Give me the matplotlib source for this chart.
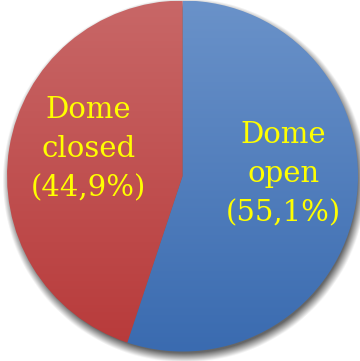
import numpy as np
import matplotlib
matplotlib.use("Agg")
import matplotlib.pyplot as plt
from matplotlib.colors import LinearSegmentedColormap

labels = ["Dome\nopen", "Dome\nclosed"]
shares = [55.1, 44.9]
top_colors = ["#6a92c9", "#c86767"]
bottom_colors = ["#3a6bb0", "#b83a3a"]

fig = plt.figure(figsize=(3.60, 3.61), dpi=100)
ax = fig.add_axes([0, 0, 1, 1])

# soft drop shadow under the disc
n = 400
xs = np.linspace(-1.1, 1.1, n)
X, Y = np.meshgrid(xs, xs)
d = np.hypot(X - 0.012, Y + 0.025)
shadow = np.clip((1.04 - d) / 0.055, 0, 1) * 0.6
rgba = np.zeros((n, n, 4))
rgba[..., 3] = shadow
ax.imshow(rgba, extent=(-1.1, 1.1, -1.1, 1.1), origin="lower", zorder=0)

wedges, _ = ax.pie(shares, startangle=90, counterclock=False, radius=1.0,
                   wedgeprops=dict(linewidth=0))

grad = np.linspace(0, 1, 256).reshape(-1, 1)
for w, ct, cb in zip(wedges, top_colors, bottom_colors):
    w.set_facecolor("none")
    cmap = LinearSegmentedColormap.from_list("g", [cb, ct])
    im = ax.imshow(grad, extent=(-1, 1, -1, 1), origin="lower", cmap=cmap,
                   aspect="auto", zorder=2)
    im.set_clip_path(w)

font = dict(family=["DejaVu Serif"], color="#ffff00", fontsize=21,
            ha="center", va="center", linespacing=1.5, zorder=5)
ax.text(0.573, 0.012, f"{labels[0]}\n({shares[0]:.1f}%)".replace(".", ","), **font)
ax.text(-0.538, 0.152, f"{labels[1]}\n({shares[1]:.1f}%)".replace(".", ","), **font)

ax.set_xlim(-1.040, 1.011)
ax.set_ylim(-1.054, 1.003)
ax.set_aspect("equal")
ax.axis("off")

fig.savefig("out.png", dpi=100)
